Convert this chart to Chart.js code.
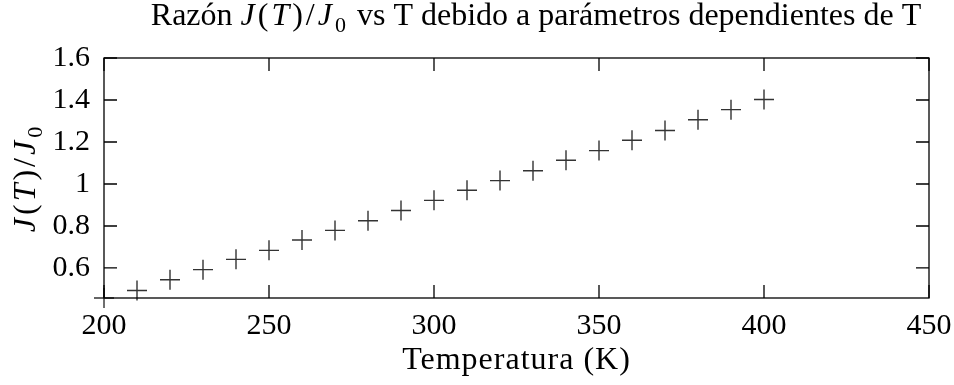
<!DOCTYPE html>
<html>
<head>
<meta charset="utf-8">
<script src="https://cdn.jsdelivr.net/npm/chart.js@4/dist/chart.umd.min.js"></script>
<style>
  html, body { margin: 0; padding: 0; background: #fff; }
</style>
</head>
<body>
<canvas id="chart" width="954" height="385"></canvas>
<script>
// data
const temps = [200, 210, 220, 230, 240, 250, 260, 270, 280, 290, 300,
  310, 320, 330, 340, 350, 360, 370, 380, 390, 400]
const ratio = [0.457, 0.493, 0.544, 0.592, 0.641, 0.684, 0.733, 0.779, 0.825, 0.874, 0.922,
  0.970, 1.016, 1.063, 1.113, 1.159, 1.208, 1.255, 1.306, 1.354, 1.402]
const xTicks = [200, 250, 300, 350, 400, 450]
const yTicks = [0.6, 0.8, 1, 1.2, 1.4, 1.6]
const xRange = [200, 450]
const yRange = [0.457, 1.6]

const FONT = '"Liberation Serif", "DejaVu Serif", serif'
const TICK_SIZE = 30
const TITLE_SIZE = 32

// pieces of text with their own style: r = roman, i = italic (math), s = subscript
const titleParts = [
  ['r', 'Razón '], ['i', 'J'], ['m', '('], ['i', 'T'], ['m', ')/'], ['i', 'J'], ['s', '0'],
  ['r', ' vs T debido a parámetros dependientes de T'],
]
const yTitleParts = [['i', 'J'], ['m', '('], ['i', 'T'], ['m', ')/'], ['i', 'J'], ['s', '0']]
const xTitle = 'Temperatura (K)'

function partFont(kind, size) {
  if (kind === 'i') return 'italic ' + size + 'px ' + FONT
  if (kind === 's') return Math.round(size * 0.7) + 'px ' + FONT
  return size + 'px ' + FONT
}

// math pieces get a bit of extra room, like TeX math spacing
function partSpacing(kind) {
  return kind === 'r' ? '0px' : '3px'
}

function drawParts(ctx, parts, cx, baseline, size) {
  let total = 0
  parts.forEach(p => {
    ctx.font = partFont(p[0], size)
    ctx.letterSpacing = partSpacing(p[0])
    total += ctx.measureText(p[1]).width
  })
  let x = cx - total / 2
  ctx.textAlign = 'left'
  ctx.textBaseline = 'alphabetic'
  parts.forEach(p => {
    ctx.font = partFont(p[0], size)
    ctx.letterSpacing = partSpacing(p[0])
    const dy = p[0] === 's' ? size * 0.22 : 0
    ctx.fillText(p[1], x, baseline + dy)
    x += ctx.measureText(p[1]).width
  })
  ctx.letterSpacing = '0px'
}

// frame, inward ticks on all sides, titles
const framePlugin = {
  id: 'frame',
  afterDraw(chart) {
    const ctx = chart.ctx
    const a = chart.chartArea
    const xs = chart.scales.x
    const ys = chart.scales.y
    const tl = 13
    ctx.save()
    ctx.strokeStyle = '#000'
    ctx.lineWidth = 1.3
    ctx.beginPath()
    xTicks.forEach(v => {
      const px = xs.getPixelForValue(v)
      ctx.moveTo(px, a.bottom); ctx.lineTo(px, a.bottom - tl)
      ctx.moveTo(px, a.top); ctx.lineTo(px, a.top + tl)
    })
    yTicks.forEach(v => {
      const py = ys.getPixelForValue(v)
      ctx.moveTo(a.left, py); ctx.lineTo(a.left + tl, py)
      ctx.moveTo(a.right, py); ctx.lineTo(a.right - tl, py)
    })
    ctx.stroke()
    ctx.strokeRect(a.left, a.top, a.right - a.left, a.bottom - a.top)

    ctx.fillStyle = '#000'
    drawParts(ctx, titleParts, 536, 25, TITLE_SIZE)

    ctx.font = TITLE_SIZE + 'px ' + FONT
    ctx.letterSpacing = '1px'
    ctx.textAlign = 'center'
    ctx.textBaseline = 'alphabetic'
    ctx.fillText(xTitle, (a.left + a.right) / 2, 369)
    ctx.letterSpacing = '0px'

    ctx.translate(35, (a.top + a.bottom) / 2)
    ctx.rotate(-Math.PI / 2)
    drawParts(ctx, yTitleParts, 0, 0, TITLE_SIZE)
    ctx.restore()
  }
}

new Chart(document.getElementById('chart'), {
  type: 'scatter',
  data: {
    datasets: [{
      data: temps.map((t, i) => ({ x: t, y: ratio[i] })),
      pointStyle: 'cross',
      pointRadius: 10,
      pointHoverRadius: 10,
      pointBorderWidth: 1.4,
      borderColor: '#333',
      backgroundColor: '#333',
      showLine: false,
      clip: false,
    }],
  },
  options: {
    responsive: false,
    animation: false,
    layout: { padding: { left: 0, right: 25, top: 58, bottom: 0 } },
    plugins: { legend: { display: false }, tooltip: { enabled: false } },
    scales: {
      x: {
        type: 'linear',
        min: xRange[0],
        max: xRange[1],
        grid: { display: false, drawTicks: false },
        border: { display: false },
        ticks: {
          color: '#000',
          font: { family: FONT, size: TICK_SIZE },
          padding: 10,
          maxRotation: 0,
          callback: v => String(v),
        },
        afterBuildTicks: s => { s.ticks = xTicks.map(v => ({ value: v })) },
        afterFit: s => {
          s.height = 87
          s.paddingLeft = 0
          s.paddingRight = 0
        },
      },
      y: {
        type: 'linear',
        min: yRange[0],
        max: yRange[1],
        grid: { display: false, drawTicks: false },
        border: { display: false },
        ticks: {
          color: '#000',
          font: { family: FONT, size: TICK_SIZE },
          padding: 14,
          callback: v => String(v),
        },
        afterBuildTicks: s => { s.ticks = yTicks.map(v => ({ value: v })) },
        afterFit: s => {
          s.width = 104
          s.paddingTop = 0
          s.paddingBottom = 0
        },
      },
    },
  },
  plugins: [framePlugin],
})
</script>
</body>
</html>
